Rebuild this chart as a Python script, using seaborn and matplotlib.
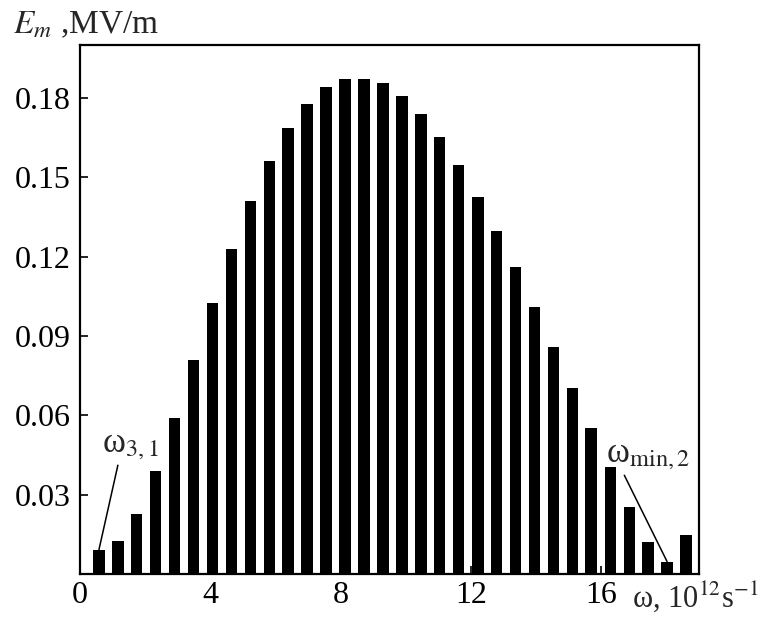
import numpy as np
import pandas as pd
import seaborn as sns
import matplotlib
matplotlib.use("Agg")
import matplotlib.pyplot as plt

# spectral lines, omega in 10^12 s^-1, amplitude in MV/m
omega = [0.58, 1.16, 1.74, 2.32, 2.90, 3.48, 4.06, 4.65, 5.23, 5.81, 6.39,
         6.97, 7.55, 8.13, 8.72, 9.30, 9.88, 10.46, 11.04, 11.62, 12.21,
         12.79, 13.37, 13.95, 14.53, 15.11, 15.69, 16.28, 16.86, 17.44,
         18.02, 18.60]
e_m = [0.0091, 0.0125, 0.0227, 0.0391, 0.0591, 0.0810, 0.1024, 0.1230,
       0.1409, 0.1563, 0.1686, 0.1778, 0.1840, 0.1873, 0.1873, 0.1857,
       0.1806, 0.1739, 0.1651, 0.1545, 0.1426, 0.1295, 0.1159, 0.1011,
       0.0858, 0.0705, 0.0551, 0.0404, 0.0255, 0.0120, 0.0047, 0.0148]
xticks = [0, 4, 8, 12, 16]
yticks = [0.03, 0.06, 0.09, 0.12, 0.15, 0.18]

df = pd.DataFrame({"omega": omega, "E": e_m})

sns.set_style("ticks")
plt.rcParams["font.family"] = ["Liberation Serif", "DejaVu Serif"]
plt.rcParams["mathtext.fontset"] = "stix"

fig = plt.figure(figsize=(7.61, 6.17), dpi=100)
ax = fig.add_axes([80 / 761, 43 / 617, 619 / 761, 529 / 617])

sns.barplot(data=df, x="omega", y="E", native_scale=True, color="black",
            saturation=1, width=0.61, linewidth=0, ax=ax)

ax.set_xlim(0, 19)
ax.set_ylim(0, 0.2)
ax.set_xticks(xticks)
ax.set_xticklabels([str(t) for t in xticks])
ax.set_yticks(yticks)
ax.set_yticklabels(["%.2f" % t for t in yticks])
ax.set_xlabel("")
ax.set_ylabel("")
for s in ax.spines.values():
    s.set_visible(True)
    s.set_linewidth(1.6)
    s.set_color("black")
ax.tick_params(direction="in", length=6, width=1.2, labelsize=23,
               colors="black")
ax.tick_params(axis="y", pad=7)
ax.tick_params(axis="x", pad=5)

# axis titles
fig.text(13 / 761, 1 - 33 / 617, r"$E_m$ ,MV/m", fontsize=24,
         ha="left", va="baseline")
fig.text(632 / 761, 1 - 607 / 617, r"ω, 10$^{12}$s$^{-1}$",
         fontsize=22, ha="left", va="baseline")

# line labels
ax.annotate(r"ω$_{3,1}$", xy=(omega[0], e_m[0]), xytext=(0.69, 0.0462),
            fontsize=25, ha="left", va="baseline",
            arrowprops=dict(arrowstyle="-", lw=1.1, color="black",
                            relpos=(0.3, 0.12), shrinkA=0, shrinkB=0))
ax.annotate(r"ω$_{\mathrm{min},2}$", xy=(omega[30], e_m[30]),
            xytext=(16.14, 0.0424), fontsize=25, ha="left", va="baseline",
            arrowprops=dict(arrowstyle="-", lw=1.1, color="black",
                            relpos=(0.2, 0.0), shrinkA=0, shrinkB=0))

fig.savefig("out.png", dpi=100)
